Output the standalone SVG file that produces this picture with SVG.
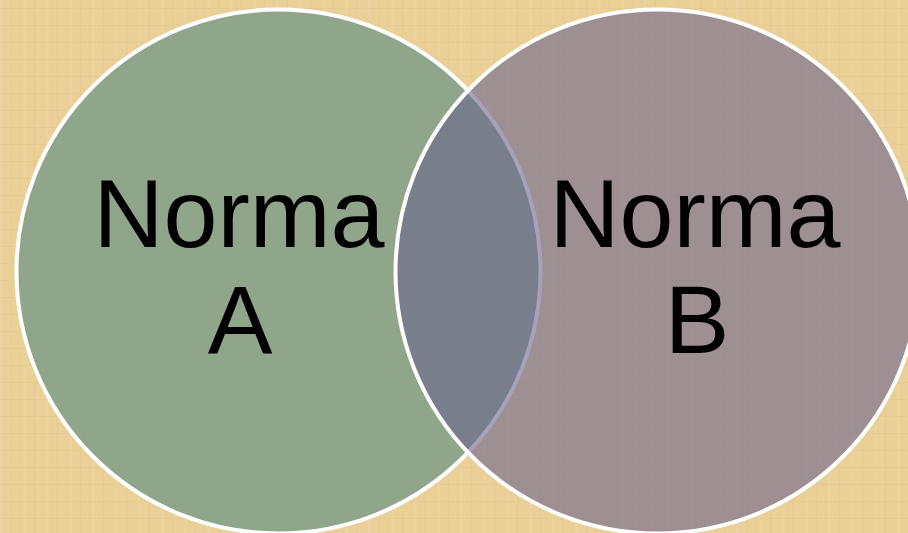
<svg xmlns="http://www.w3.org/2000/svg" width="908" height="533" viewBox="0 0 908 533">
  <defs>
    <pattern id="weave" width="23" height="17" patternUnits="userSpaceOnUse">
      <rect x="0" y="0" width="3" height="17" fill="#ffffff" opacity="0.05"/>
      <rect x="11" y="0" width="1" height="17" fill="#000000" opacity="0.02"/>
      <rect x="0" y="8" width="23" height="1" fill="#000000" opacity="0.02"/>
    </pattern>
    <style>
      .ring { stroke: #ffffff; stroke-width: 4; }
      .label { font-family: "Liberation Sans", Arial, sans-serif; font-size: 97px; fill: #000000; text-anchor: middle; }
    </style>
  </defs>
  <rect id="background" x="0" y="0" width="908" height="533" fill="#eacf96"/>
  <rect x="0" y="0" width="908" height="533" fill="url(#weave)"/>
  <g id="norma-a">
    <circle class="ring" cx="278.5" cy="271.5" r="262" fill="#90a68a"/>
  </g>
  <g id="norma-b">
    <circle class="ring" cx="657.5" cy="271.5" r="262" fill="#6b648f" fill-opacity="0.6"/>
  </g>
  <g id="connectors"></g>
  <g id="labels">
    <text class="label" x="239" y="247">Norma</text>
    <text class="label" x="240" y="353">A</text>
    <text class="label" x="695" y="247">Norma</text>
    <text class="label" x="697" y="353">B</text>
  </g>
</svg>
